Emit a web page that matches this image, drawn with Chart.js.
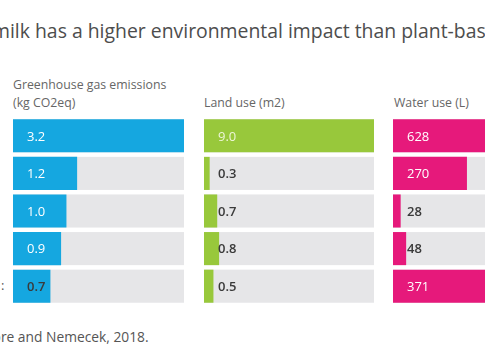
<!DOCTYPE html>
<html>
<head>
<meta charset="utf-8">
<script src="https://cdn.jsdelivr.net/npm/chart.js@4"></script>
<style>
  html, body { margin: 0; padding: 0; }
  body { width: 485px; height: 360px; overflow: hidden; position: relative; background: #fff;
         font-family: "Open Sans", "Noto Sans", sans-serif; color: #555; }
  .txt { position: absolute; white-space: nowrap; }
  .panel { position: absolute; }
</style>
</head>
<body>
<div class="txt" style="left:-8px;top:17px;font-size:19.4px;color:#4d4d4d;">milk has a higher environmental impact than plant-based milks</div>
<div class="txt" style="left:13px;top:76px;font-size:12.3px;line-height:18px;color:#666;">Greenhouse gas emissions<br>(kg CO2eq)</div>
<div class="txt" style="left:204px;top:94px;font-size:12.3px;line-height:18px;color:#666;">Land use (m2)</div>
<div class="txt" style="left:394px;top:94px;font-size:12.3px;line-height:18px;color:#666;">Water use (L)</div>
<div class="txt" style="left:1px;top:276px;font-size:13px;color:#555;">:</div>
<div class="txt" style="left:-24px;top:327px;font-size:13.8px;color:#555;">Poore and Nemecek, 2018.</div>

<div class="panel" style="left:13px;top:117px;width:171px;height:188px;"><canvas id="ghg"></canvas></div>
<div class="panel" style="left:204px;top:117px;width:170px;height:188px;"><canvas id="land"></canvas></div>
<div class="panel" style="left:393px;top:117px;width:172px;height:188px;"><canvas id="water"></canvas></div>

<script>
// rows, top to bottom (milk types not visible in the crop)
const rows = ['Dairy', 'Rice', 'Soy', 'Oat', 'Almond'];

const ghgValues = [3.2, 1.2, 1.0, 0.9, 0.7];
const ghgLabels = ['3.2', '1.2', '1.0', '0.9', '0.7'];

const landValues = [9.0, 0.3, 0.7, 0.8, 0.5];
const landLabels = ['9.0', '0.3', '0.7', '0.8', '0.5'];

const waterValues = [628, 270, 28, 48, 371];
const waterLabels = ['628', '270', '28', '48', '371'];

// grey track behind each bar + value text
const trackPlugin = {
  id: 'track',
  beforeDatasetsDraw(chart) {
    const ctx = chart.ctx, area = chart.chartArea;
    const meta = chart.getDatasetMeta(0);
    ctx.save();
    ctx.fillStyle = '#e6e6e8';
    meta.data.forEach(bar => {
      ctx.fillRect(area.left, bar.y - bar.height / 2, area.right - area.left, bar.height);
    });
    ctx.restore();
  },
  afterDatasetsDraw(chart) {
    const ctx = chart.ctx, area = chart.chartArea;
    const meta = chart.getDatasetMeta(0);
    const labels = chart.options.plugins.track.labels;
    ctx.save();
    ctx.textBaseline = 'middle';
    meta.data.forEach((bar, i) => {
      const inside = bar.x - area.left > 40;
      ctx.font = (inside ? '500' : '600') + ' 13px "Open Sans", sans-serif';
      ctx.fillStyle = inside ? chart.options.plugins.track.inColor : '#3a3a3a';
      ctx.fillText(labels[i], area.left + 14, bar.y + 1);
    });
    ctx.restore();
  }
};

function makeChart(id, values, labels, color, inColor) {
  new Chart(document.getElementById(id), {
    type: 'bar',
    data: {
      labels: rows,
      datasets: [{ data: values, backgroundColor: color, borderWidth: 0,
                   categoryPercentage: 1, barPercentage: 0.88 }]
    },
    options: {
      indexAxis: 'y',
      responsive: true,
      maintainAspectRatio: false,
      animation: false,
      layout: { padding: 0 },
      plugins: {
        legend: { display: false },
        tooltip: { enabled: false },
        track: { labels: labels, inColor: inColor }
      },
      scales: {
        x: { display: false, min: 0, max: values[0] },
        y: { display: false }
      }
    },
    plugins: [trackPlugin]
  });
}

makeChart('ghg', ghgValues, ghgLabels, '#15a7e0', '#ffffff');
makeChart('land', landValues, landLabels, '#98c83b', '#eef6d8');
makeChart('water', waterValues, waterLabels, '#e6197b', '#ffffff');
</script>
</body>
</html>
